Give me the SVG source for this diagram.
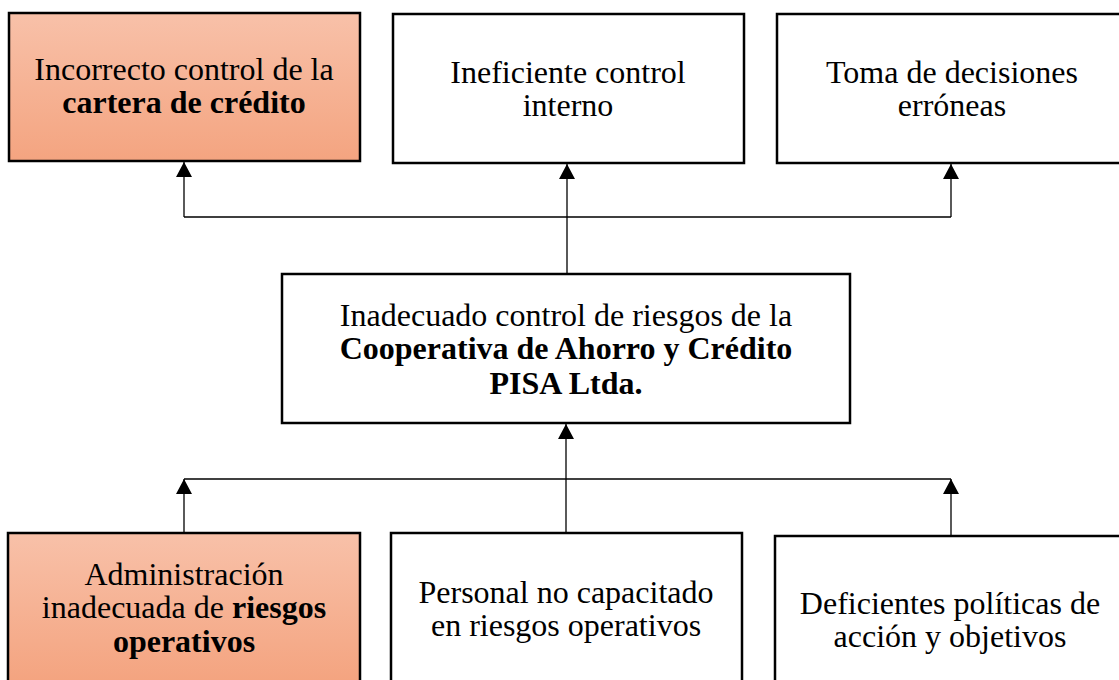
<svg xmlns="http://www.w3.org/2000/svg" width="1119" height="680" viewBox="0 0 1119 680">
<defs>
<linearGradient id="org" x1="0" y1="0" x2="0" y2="1">
<stop offset="0" stop-color="#F8C1A9"/>
<stop offset="1" stop-color="#F4A480"/>
</linearGradient>
<linearGradient id="org2" x1="0" y1="533" x2="0" y2="680" gradientUnits="userSpaceOnUse">
<stop offset="0" stop-color="#F8C1A9"/>
<stop offset="1" stop-color="#F4A480"/>
</linearGradient>
<marker id="arr" markerUnits="userSpaceOnUse" markerWidth="18" markerHeight="18" viewBox="0 0 18 18" refX="15" refY="9" orient="auto">
<path d="M0,1 L15,9 L0,17 Z" fill="#000"/>
</marker>
<style>
.box{stroke:#000;stroke-width:2.5;}
.w{fill:#fff;}
.t{font-family:"Liberation Serif","Times New Roman",serif;font-size:32px;fill:#000;text-anchor:middle;}
.b{font-weight:bold;}
.c{fill:none;stroke:#000;stroke-width:1.3;}
</style>
</defs>
<rect width="1119" height="680" fill="#fff"/>
<g id="connectors">
<path class="c" d="M567,274 V217 M184,217 H951"/>
<path class="c" d="M184,217 V162" marker-end="url(#arr)"/>
<path class="c" d="M567,217 V164" marker-end="url(#arr)"/>
<path class="c" d="M951,217 V164" marker-end="url(#arr)"/>
<path class="c" d="M184,479 H951"/>
<path class="c" d="M184,533 V479" marker-end="url(#arr)"/>
<path class="c" d="M951,536 V479" marker-end="url(#arr)"/>
<path class="c" d="M566,533 V424" marker-end="url(#arr)"/>
</g>
<g id="n1">
<rect class="box" x="9" y="13" width="351" height="148" fill="url(#org)"/>
<text class="t" x="184" y="80">Incorrecto control de la</text>
<text class="t b" x="184" y="113">cartera de crédito</text>
</g>
<g id="n2">
<rect class="box w" x="393" y="14" width="351" height="149"/>
<text class="t" x="568" y="83">Ineficiente control</text>
<text class="t" x="568" y="116">interno</text>
</g>
<g id="n3">
<rect class="box w" x="777" y="14" width="350" height="149"/>
<text class="t" x="952" y="83">Toma de decisiones</text>
<text class="t" x="952" y="116">erróneas</text>
</g>
<g id="n4">
<rect class="box w" x="282" y="274" width="568" height="149"/>
<text class="t" x="566" y="326">Inadecuado control de riesgos de la</text>
<text class="t b" x="566" y="359">Cooperativa de Ahorro y Crédito</text>
<text class="t b" x="566" y="394">PISA Ltda.</text>
</g>
<g id="n5">
<rect class="box" x="8" y="533" width="352" height="160" fill="url(#org2)"/>
<text class="t" x="184" y="585">Administración</text>
<text class="t" x="184" y="618">inadecuada de <tspan class="b">riesgos</tspan></text>
<text class="t b" x="184" y="652">operativos</text>
</g>
<g id="n6">
<rect class="box w" x="391" y="533" width="351" height="160"/>
<text class="t" x="566" y="603">Personal no capacitado</text>
<text class="t" x="566" y="636">en riesgos operativos</text>
</g>
<g id="n7">
<rect class="box w" x="775" y="536" width="350" height="160"/>
<text class="t" x="950" y="614">Deficientes políticas de</text>
<text class="t" x="950" y="647">acción y objetivos</text>
</g>
</svg>
